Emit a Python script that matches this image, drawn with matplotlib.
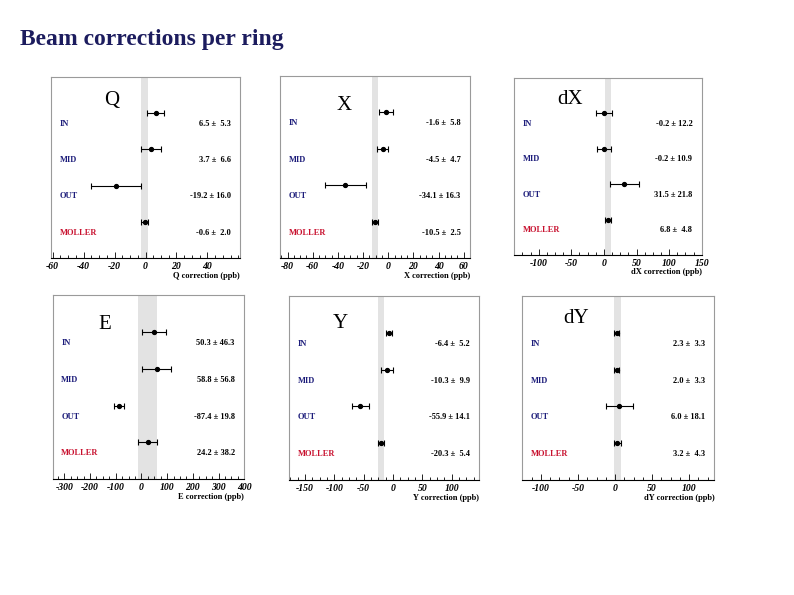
import matplotlib
matplotlib.use("Agg")
import matplotlib.pyplot as plt
from matplotlib.ticker import AutoMinorLocator

rings = ["IN", "MID", "OUT", "MOLLER"]
ring_colors = ["#1c1c7a", "#1c1c7a", "#1c1c7a", "#c8102e"]

names = ["Q", "X", "dX", "E", "Y", "dY"]
xlabels = ["Q correction (ppb)", "X correction (ppb)", "dX correction (ppb)",
           "E correction (ppb)", "Y correction (ppb)", "dY correction (ppb)"]
values = [
    [6.5, 3.7, -19.2, -0.6],
    [-1.6, -4.5, -34.1, -10.5],
    [-0.2, -0.2, 31.5, 6.8],
    [50.3, 58.8, -87.4, 24.2],
    [-6.4, -10.3, -55.9, -20.3],
    [2.3, 2.0, 6.0, 3.2],
]
errors = [
    [5.3, 6.6, 16.0, 2.0],
    [5.8, 4.7, 16.3, 2.5],
    [12.2, 10.9, 21.8, 4.8],
    [46.3, 56.8, 19.8, 38.2],
    [5.2, 9.9, 14.1, 5.4],
    [3.3, 3.3, 18.1, 4.3],
]
xlims = [(-61, 61), (-86, 65), (-138, 150), (-345, 395), (-177, 147), (-126, 134)]
xticks = [
    [-60, -40, -20, 0, 20, 40],
    [-80, -60, -40, -20, 0, 20, 40, 60],
    [-100, -50, 0, 50, 100, 150],
    [-300, -200, -100, 0, 100, 200, 300, 400],
    [-150, -100, -50, 0, 50, 100],
    [-100, -50, 0, 50, 100],
]

W, H = 794, 595
# panel frames in pixels: left, right, top, bottom
frames = [
    (51, 240, 77, 258), (280, 470, 76, 258), (514, 701.7, 78, 255),
    (52.7, 244.3, 295, 479.3), (289.3, 479.3, 296, 480), (521.7, 714.3, 296, 480),
]
name_pos = [(0.32, 0.87), (0.34, 0.84), (0.30, 0.88), (0.27, 0.84), (0.27, 0.85), (0.28, 0.88)]

serif = "Liberation Serif"
fig = plt.figure(figsize=(W / 100, H / 100), dpi=100)
fig.patch.set_facecolor("white")

fig.text(20 / W, 1 - 40 / H, "Beam corrections per ring", fontsize=17, fontweight="bold",
         family=serif, color="#1c1c5e", va="center", ha="left")

ypos = [4, 3, 2, 1]

for i in range(6):
    l, r, t, b = frames[i]
    ax = fig.add_axes([l / W, 1 - b / H, (r - l) / W, (b - t) / H])
    ax.set_xlim(*xlims[i])
    ax.set_ylim(0, 5)

    mv, me = values[i][3], errors[i][3]
    ax.axvspan(mv - me, mv + me, color="#e3e3e3", lw=0, zorder=0)

    ax.errorbar(values[i], ypos, xerr=errors[i], fmt="o", color="black", ms=2.8,
                elinewidth=0.8, capsize=2.5, capthick=0.8, zorder=3)

    for j in range(4):
        ax.text(0.045, (ypos[j] - 0.3) / 5, rings[j], transform=ax.transAxes,
                fontsize=6, fontweight="bold", family=serif, color=ring_colors[j],
                ha="left", va="center")
        ax.text(0.95, (ypos[j] - 0.3) / 5, f"{values[i][j]:.1f} \u00b1 {errors[i][j]:4.1f}",
                transform=ax.transAxes, fontsize=6, fontweight="bold", family=serif,
                color="black", ha="right", va="center")

    ax.text(name_pos[i][0], name_pos[i][1], names[i], transform=ax.transAxes,
            fontsize=15, family=serif, color="black", ha="center", va="center")

    ax.set_xticks(xticks[i])
    ax.set_xticklabels([str(v) for v in xticks[i]], fontsize=7, fontweight="bold",
                       style="italic", family=serif)
    ax.xaxis.set_minor_locator(AutoMinorLocator(4))
    ax.tick_params(axis="x", which="major", direction="in", length=4, width=0.6, pad=3)
    ax.tick_params(axis="x", which="minor", direction="in", length=2, width=0.6)
    ax.set_yticks([])
    ax.set_xlabel(xlabels[i], fontsize=6, fontweight="bold", family=serif, labelpad=0)
    ax.xaxis.set_label_coords(1.0, -0.075)
    ax.xaxis.label.set_ha("right")

    for s in ["left", "right", "top"]:
        ax.spines[s].set_color("#9a9a9a")
        ax.spines[s].set_linewidth(0.8)
    ax.spines["bottom"].set_color("black")
    ax.spines["bottom"].set_linewidth(0.8)

fig.savefig("out.png", dpi=100, facecolor="white")
